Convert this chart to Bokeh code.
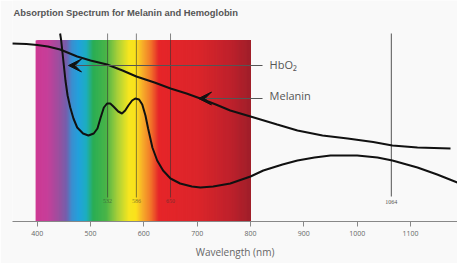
import numpy as np
from bokeh.plotting import figure
from bokeh.models import Range1d, FixedTicker, Label, Arrow, VeeHead
from bokeh.embed import file_html
from bokeh.resources import INLINE

# ---------------- data (relative absorption, arbitrary units) ----------------
melanin_nm = [353, 380, 400, 420, 443, 475, 500, 531, 560, 586, 620, 650, 680, 706,
              735, 762, 800, 850, 888, 935, 982, 1030, 1066, 1113, 1175]
melanin_abs = [178, 177.5, 176.5, 175, 172, 165, 161, 157, 151, 145, 139, 133, 128, 123,
               117, 111, 105, 97, 91, 86, 83, 79.5, 76, 74, 73]

hbo2_nm = [443, 445, 447, 450, 453, 457, 462, 468, 475, 486, 496, 506, 513, 519, 525,
           531, 537, 543, 552, 559, 565, 571, 578, 584, 591, 597, 603, 608, 616, 625,
           636, 650, 668, 690, 706, 730, 762, 800, 824, 860, 888, 920, 950, 1000, 1038,
           1066, 1113, 1150, 1188]
hbo2_abs = [188, 181, 171, 156, 141, 126, 114, 103, 94, 88, 86, 88, 93, 104, 114,
            118, 118, 115, 110, 108, 111, 116, 121, 123, 122, 117, 106, 93, 74, 61,
            51, 43, 38, 35, 34, 35, 38, 45, 51, 57, 61, 64, 66, 66, 64,
            61, 54, 47, 39]

laser_nm = [532, 586, 650]
laser_labels = ["532", "586", "650"]
yag_nm = [1064]
yag_labels = ["1064"]

tick_nm = [400, 500, 600, 700, 800, 900, 1000, 1100]
tick_labels = ["400", "500", "600", "700", "800", "900", "1000", "1100"]

curve_labels = ["HbO\u2082", "Melanin"]
title_text = ["Absorption Spectrum for Melanin and Hemoglobin"]

# visible spectrum colour stops (wavelength, colour)
spec_nm = [397, 420, 440, 455, 465, 478, 492, 505, 530, 550, 572, 585, 597, 612, 628, 700, 760, 800]
spec_col = ["#cf3a94", "#c6409a", "#9c4f9f", "#7460ad", "#3b8fd0", "#22a2dc", "#1eaec0",
            "#2aae55", "#4cb548", "#a6cf3a", "#f6e620", "#fbe11d", "#f7b02a", "#f27a2a",
            "#e6262a", "#dc262b", "#c0222c", "#a01f2b"]

# ---------------- figure ----------------
p = figure(width=457, height=263, output_backend="svg", toolbar_location=None,
           x_range=Range1d(353.7, 1188.1), y_range=Range1d(0, 221),
           min_border_left=12, min_border_right=0, min_border_top=0, min_border_bottom=42)
p.background_fill_color = "#f9f9f9"
p.border_fill_color = "#f9f9f9"
p.outline_line_color = None
p.grid.visible = False
p.yaxis.visible = False

# spectrum gradient (stacked strips, each running to the red end, drawn left to right)
def hex2rgb(h):
    return np.array([int(h[i:i + 2], 16) for i in (1, 3, 5)], dtype=float)

stops = np.array([hex2rgb(c) for c in spec_col])
edges = np.arange(spec_nm[0], spec_nm[-1], 1.0)
cols = []
for m in edges + 0.5:
    rgb = [np.interp(m, spec_nm, stops[:, k]) for k in range(3)]
    cols.append("#%02x%02x%02x" % tuple(int(round(v)) for v in rgb))
p.quad(left=edges, right=[spec_nm[-1]] * len(edges), bottom=0, top=181, fill_color=cols,
       line_color=None)

# laser wavelength markers
p.segment(x0=laser_nm, x1=laser_nm, y0=24, y1=188, line_color="#333333", line_alpha=0.6,
          line_width=1)
p.segment(x0=yag_nm, x1=yag_nm, y0=25, y1=188, line_color="#555555", line_width=1)
p.text(x=laser_nm, y=[21] * len(laser_nm), text=laser_labels, text_align="center",
       text_baseline="middle", text_font_size="6px", text_color="#333333", text_alpha=0.6,
       text_font={"value": "Liberation Serif"})
p.text(x=yag_nm, y=[20], text=yag_labels, text_align="center", text_baseline="middle",
       text_font_size="6px", text_color="#555555", text_font={"value": "Liberation Serif"})

# curves
p.line(melanin_nm, melanin_abs, line_color="#111111", line_width=2)
p.line(hbo2_nm, hbo2_abs, line_color="#111111", line_width=2)

# leader arrows
p.add_layout(Arrow(x_start=822.5, y_start=156, x_end=458.7, y_end=156,
                   line_color="#555555", line_width=1,
                   end=VeeHead(size=13, fill_color="#111111", line_color="#111111")))
p.add_layout(Arrow(x_start=822.5, y_start=123, x_end=702.5, y_end=123,
                   line_color="#555555", line_width=1,
                   end=VeeHead(size=13, fill_color="#111111", line_color="#111111")))
for txt, yy in zip(curve_labels, [157.5, 126]):
    p.add_layout(Label(x=835.7, y=yy, text=txt, text_baseline="middle",
                       text_font="Open Sans", text_font_size="11px", text_color="#555555"))

# title (as a text glyph, left-aligned at the plot's left edge)
p.text(x=[355.5], y=[209.5], text=title_text, text_align="left", text_baseline="middle",
       text_font={"value": "Liberation Sans"}, text_font_style="bold",
       text_font_size="9.4px", text_color="#555555")

# x axis
ax = p.xaxis[0]
ax.ticker = FixedTicker(ticks=tick_nm)
ax.major_label_overrides = {t: l for t, l in zip(tick_nm, tick_labels)}
ax.axis_line_color = "#888888"
ax.axis_line_width = 1.2
ax.major_tick_line_color = "#888888"
ax.major_tick_in = 0
ax.major_tick_out = 5
ax.minor_tick_line_color = None
ax.major_label_standoff = 4
ax.major_label_text_font = "Open Sans"
ax.major_label_text_font_size = "7px"
ax.major_label_text_color = "#666666"
ax.axis_label = "Wavelength (nm)"
ax.axis_label_standoff = 6
ax.axis_label_text_font = "Open Sans"
ax.axis_label_text_font_size = "10px"
ax.axis_label_text_font_style = "normal"
ax.axis_label_text_color = "#666666"

open("out.html", "w").write(file_html(p, INLINE))
